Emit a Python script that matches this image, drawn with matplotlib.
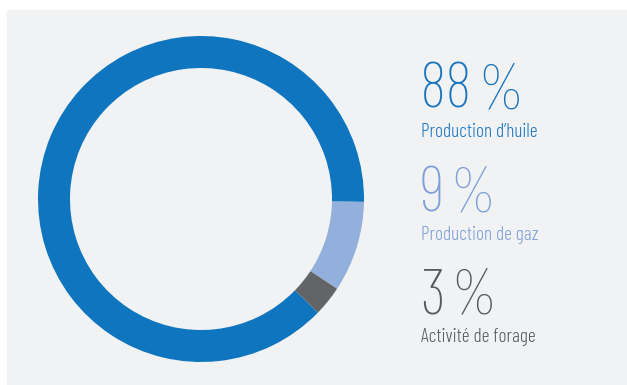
import matplotlib.pyplot as plt
from matplotlib.patches import Rectangle

# data
labels = ["Production d\u2019huile", "Production de gaz", "Activité de forage"]
shares = [88, 9, 3]
colors = ["#1075bf", "#93b0dc", "#636466"]
text_colors = ["#1a75bf", "#7ea0d6", "#58595b"]

W, H = 627, 385
fig = plt.figure(figsize=(W / 100, H / 100), dpi=100)
ax = fig.add_axes([0, 0, 1, 1])

# panel background
ax.add_patch(Rectangle((7, 0), W - 7, H - 10, color="#f1f2f4", zorder=0))

# ring drawn clockwise from 3 o'clock: gaz, forage, then huile
order = [1, 2, 0]
ax.pie([shares[i] for i in order], colors=[colors[i] for i in order],
       startangle=-1, counterclock=False, center=(201, H - 199), radius=163,
       wedgeprops=dict(width=32, linewidth=0), frame=True)
ax.set_xlim(0, W)
ax.set_ylim(0, H)
ax.set_aspect("auto")

font = ["Barlow Condensed", "DejaVu Sans"]
pct_font = ["Fira Sans Extra Condensed", "Barlow Condensed", "DejaVu Sans"]
baselines = [108, 211, 313]
renderer = fig.canvas.get_renderer()
for lab, val, c, y in zip(labels, shares, text_colors, baselines):
    num = ax.text(420, H - y, f"{val}", fontsize=46, color=c, family=font,
                  fontweight=250, va="baseline", ha="left")
    x_end = num.get_window_extent(renderer).x1
    ax.text(x_end + 7, H - y, "%", fontsize=48, color=c, family=pct_font,
            fontweight=250, va="baseline", ha="left")
    ax.text(421, H - y - 29, lab, fontsize=14, color=c, family=font,
            fontweight=300, va="baseline", ha="left")

ax.axis("off")
fig.savefig("out.png", dpi=100, facecolor="white")
